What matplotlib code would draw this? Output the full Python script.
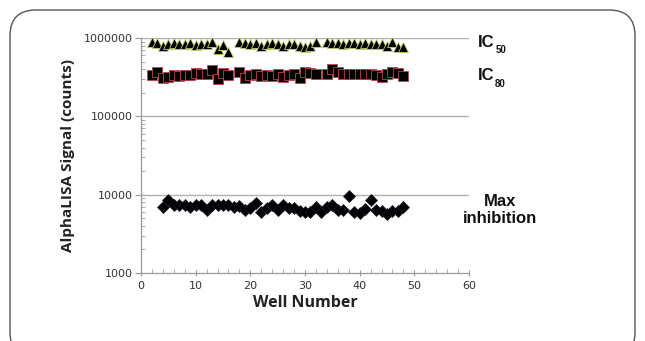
import numpy as np
import matplotlib.pyplot as plt
from matplotlib.patches import FancyBboxPatch
from matplotlib.ticker import MultipleLocator, LogLocator, NullFormatter, FixedLocator

wells_ic = [2, 3, 4, 5, 6, 7, 8, 9, 10, 11, 12, 13, 14, 15, 16,
            18, 19, 20, 21, 22, 23, 24, 25, 26, 27, 28, 29, 30, 31, 32,
            34, 35, 36, 37, 38, 39, 40, 41, 42, 43, 44, 45, 46, 47, 48]
ic50 = [880000, 870000, 780000, 850000, 860000, 850000, 850000, 860000, 820000, 850000,
        840000, 900000, 720000, 820000, 660000,
        880000, 870000, 850000, 860000, 800000, 850000, 860000, 850000, 800000, 850000,
        830000, 800000, 760000, 790000, 880000,
        900000, 860000, 860000, 850000, 870000, 860000, 850000, 860000, 850000, 830000,
        830000, 800000, 880000, 760000, 760000]
ic80 = [340000, 370000, 310000, 320000, 340000, 330000, 340000, 340000, 360000, 350000,
        345000, 390000, 300000, 360000, 340000,
        370000, 310000, 340000, 345000, 330000, 340000, 330000, 350000, 320000, 340000,
        350000, 310000, 370000, 360000, 350000,
        350000, 400000, 370000, 350000, 350000, 350000, 350000, 345000, 350000, 340000,
        320000, 350000, 370000, 360000, 330000]

wells_max = list(range(4, 49))
max_inh = [6950, 8460, 7440, 7440, 7300, 6950, 7300, 7440, 6420, 7300,
           7300, 7300, 7440, 6950, 7100, 6420, 6750, 7820, 6000, 6750,
           7300, 6420, 7300, 6750, 6750, 6230, 6000, 6000, 6950, 6000,
           6950, 7300, 6420, 6420, 9700, 6000, 5800, 6600, 8630, 6420,
           6230, 5700, 6230, 6230, 6950]

fig = plt.figure(figsize=(6.45, 3.41), dpi=100)

# rounded frame around the whole figure
frame = FancyBboxPatch((10 / 645, -0.05), 625 / 645, 1 - 10 / 341 + 0.05,
                       boxstyle="round,pad=0,rounding_size=0.04",
                       transform=fig.transFigure, fill=False,
                       edgecolor='#555555', linewidth=1.0, mutation_aspect=645 / 341)
fig.patches.append(frame)

ax = fig.add_axes([141 / 645, 1 - 273 / 341, 328 / 645, 235 / 341])

ax.set_yscale('log')
ax.set_xlim(0, 60)
ax.set_ylim(1000, 1000000)

grid_c = '#b0b0b0'
for v in [10000, 100000, 1000000]:
    ax.axhline(v, color=grid_c, linewidth=1.0, zorder=1)

ax.plot(wells_ic, ic50, linestyle='none', marker='^', markersize=7.5,
        markerfacecolor='black', markeredgecolor='#c5d36a', markeredgewidth=0.6, zorder=3)
ax.plot(wells_ic, ic80, linestyle='none', marker='s', markersize=7,
        markerfacecolor='black', markeredgecolor='#c0404a', markeredgewidth=0.6, zorder=3)
ax.plot(wells_max, max_inh, linestyle='none', marker='D', markersize=6,
        markerfacecolor='black', markeredgecolor='#1a1a2a', markeredgewidth=0.5, zorder=3)

for s in ['top', 'right']:
    ax.spines[s].set_visible(False)
for s in ['left', 'bottom']:
    ax.spines[s].set_color('#999999')
    ax.spines[s].set_linewidth(0.9)

ax.xaxis.set_major_locator(MultipleLocator(10))
ax.xaxis.set_minor_locator(MultipleLocator(2))
ax.yaxis.set_major_locator(FixedLocator([1000, 10000, 100000, 1000000]))
ax.yaxis.set_minor_locator(LogLocator(base=10, subs=np.arange(2, 10)))
ax.yaxis.set_minor_formatter(NullFormatter())
ax.set_yticklabels(['1000', '10000', '100000', '1000000'])

ax.tick_params(axis='both', which='major', labelsize=8, colors='#999999',
               labelcolor='#333333', length=4, direction='inout', width=0.8)
ax.tick_params(axis='both', which='minor', colors='#999999', length=3,
               direction='in', width=0.6)
ax.tick_params(axis='y', which='major', direction='out', length=4, pad=2)

ax.set_xlabel('Well Number', fontsize=11.5, fontweight='bold', color='#222222',
              family='Open Sans', labelpad=3)
ax.set_ylabel('AlphaLISA Signal (counts)', fontsize=11, fontweight='bold',
              color='#222222', family='Open Sans', labelpad=6)

lab = dict(fontsize=12, fontweight='bold', family='Liberation Sans',
           color='#111111', clip_on=False)
sub = dict(fontsize=7, fontweight='bold', family='Liberation Sans',
           color='#111111', clip_on=False)
ax.text(61.6, 880000, 'IC', va='center', ha='left', **lab)
ax.text(64.8, 700000, '50', va='center', ha='left', **sub)
ax.text(61.6, 330000, 'IC', va='center', ha='left', **lab)
ax.text(64.8, 260000, '80', va='center', ha='left', **sub)
ax.text(65.6, 6300, 'Max\ninhibition', va='center', ha='center', linespacing=1.15, **lab)

fig.savefig('out.png', dpi=100)
